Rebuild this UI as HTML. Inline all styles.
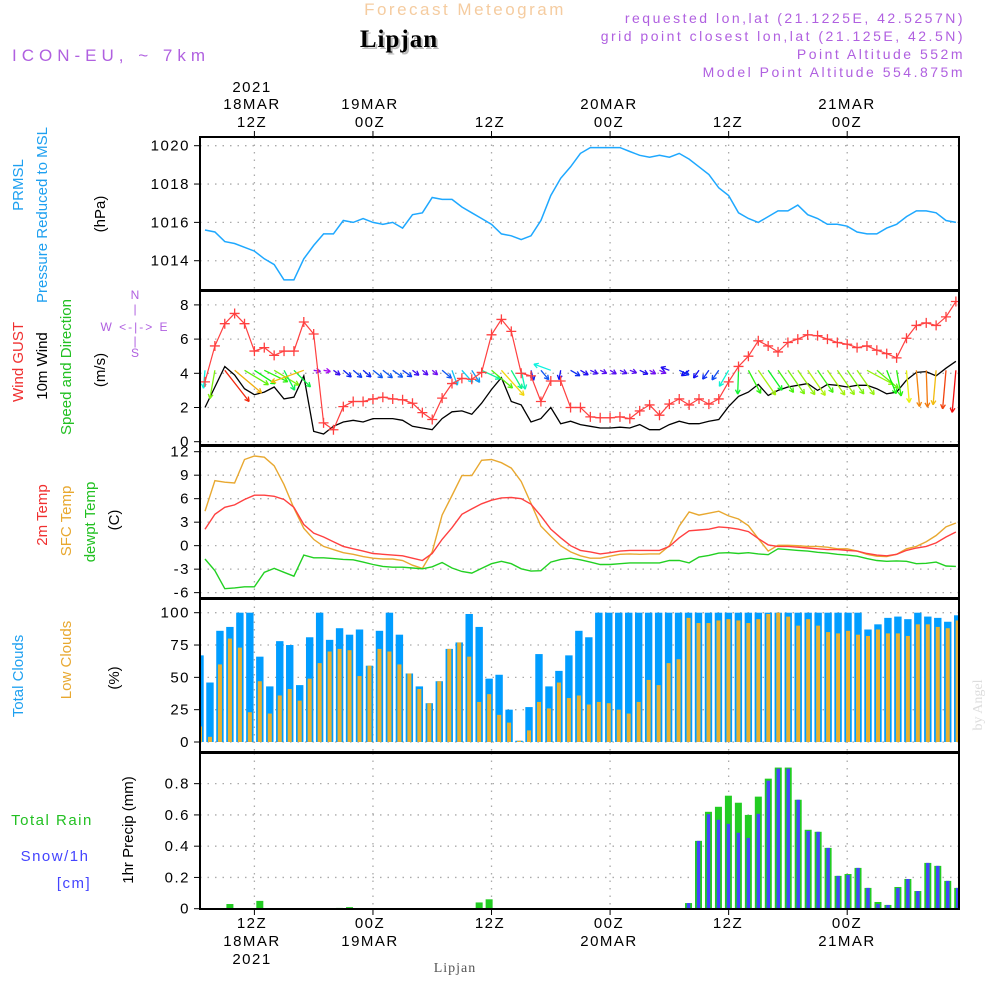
<!DOCTYPE html>
<html><head><meta charset="utf-8"><style>
html,body{margin:0;padding:0;background:#fff;}
svg{display:block;font-family:"Liberation Sans",sans-serif;}
</style></head><body>
<svg id="chart" width="1000" height="1000" viewBox="0 0 1000 1000" xmlns="http://www.w3.org/2000/svg">
<text x="465" y="15" font-size="17" fill="#f5cca0" text-anchor="middle" letter-spacing="2.5">Forecast Meteogram</text>
<text x="401" y="49" font-size="25" font-weight="bold" font-family="Liberation Serif,serif" fill="#bbb" text-anchor="middle" letter-spacing="1">Lipjan</text>
<text x="399" y="47" font-size="25" font-weight="bold" font-family="Liberation Serif,serif" fill="#000" text-anchor="middle" letter-spacing="1">Lipjan</text>
<text x="12" y="61" font-size="17" fill="#b060e0" letter-spacing="5">ICON-EU, ~ 7km</text>
<g font-size="14" fill="#b060e0" text-anchor="end" letter-spacing="2.5">
<text x="965" y="23">requested lon,lat (21.1225E, 42.5257N)</text>
<text x="965" y="41">grid point closest lon,lat (21.125E, 42.5N)</text>
<text x="965" y="59">Point Altitude 552m</text>
<text x="965" y="77">Model Point Altitude 554.875m</text>
</g>
<g id="toplabels" font-size="15" fill="#000" text-anchor="middle" letter-spacing="1.5">
<text x="252" y="92">2021</text><text x="252" y="109">18MAR</text><text x="252" y="127">12Z</text>
<text x="370" y="109">19MAR</text><text x="370" y="127">00Z</text>
<text x="490" y="127">12Z</text>
<text x="609" y="109">20MAR</text><text x="609" y="127">00Z</text>
<text x="728" y="127">12Z</text>
<text x="847" y="109">21MAR</text><text x="847" y="127">00Z</text>
</g>
<g font-size="15" fill="#000" text-anchor="middle" letter-spacing="1.5">
<text x="252" y="928">12Z</text><text x="252" y="946">18MAR</text><text x="252" y="964">2021</text>
<text x="370" y="928">00Z</text><text x="370" y="946">19MAR</text>
<text x="490" y="928">12Z</text>
<text x="609" y="928">00Z</text><text x="609" y="946">20MAR</text>
<text x="728" y="928">12Z</text>
<text x="847" y="928">00Z</text><text x="847" y="946">21MAR</text>
</g>
<text x="455" y="972" font-size="14" font-family="Liberation Serif,serif" fill="#555" text-anchor="middle" letter-spacing="1">Lipjan</text>
<text transform="translate(982,705) rotate(-90)" font-size="14" font-family="Liberation Serif,serif" fill="#ddd" text-anchor="middle">by Angel</text>

<g font-size="15" text-anchor="middle">
<text transform="translate(23,185) rotate(-90)" fill="#1ea0f0">PRMSL</text>
<text transform="translate(47,215) rotate(-90)" fill="#1ea0f0">Pressure Reduced to MSL</text>
<text transform="translate(105,214) rotate(-90)" fill="#000">(hPa)</text>
<text transform="translate(23,362) rotate(-90)" fill="#f03030">Wind GUST</text>
<text transform="translate(47,366) rotate(-90)" fill="#000">10m Wind</text>
<text transform="translate(71,367) rotate(-90)" fill="#22c022">Speed and Direction</text>
<text transform="translate(105,370) rotate(-90)" fill="#000">(m/s)</text>
<text transform="translate(47,515) rotate(-90)" fill="#f03030">2m Temp</text>
<text transform="translate(71,521) rotate(-90)" fill="#e8a830">SFC Temp</text>
<text transform="translate(95,522) rotate(-90)" fill="#22c022">dewpt Temp</text>
<text transform="translate(119,520) rotate(-90)" fill="#000">(C)</text>
<text transform="translate(23,676) rotate(-90)" fill="#1ea0f0">Total Clouds</text>
<text transform="translate(71,660) rotate(-90)" fill="#e8a830">Low Clouds</text>
<text transform="translate(119,678) rotate(-90)" fill="#000">(%)</text>
<text transform="translate(133,830) rotate(-90)" fill="#000">1hr Precip (mm)</text>
<text x="52" y="825" fill="#22c022" letter-spacing="1.5">Total  Rain</text>
<text x="55" y="861" fill="#4444ff" letter-spacing="1.5">Snow/1h</text>
<text x="74" y="888" fill="#4444ff" letter-spacing="1.5">[cm]</text>
</g>
<g font-size="12" fill="#b060e0" text-anchor="middle">
<text x="135" y="299">N</text><text x="135" y="313">|</text>
<text x="135" y="331" letter-spacing="2">W &lt;-|-&gt; E</text>
<text x="135" y="345">|</text><text x="135" y="357">S</text>
</g>
<g id="plots"></g>
</svg>
<script>
// ---- data (hourly, 07Z 18MAR .. 11Z 21MAR) ----
const pressure=[1015.6,1015.5,1015.0,1014.9,1014.7,1014.5,1014.1,1013.8,1013.0,1013.0,1014.1,1014.8,1015.4,1015.4,1016.1,1016.0,1016.2,1016.0,1015.9,1016.0,1015.7,1016.4,1016.5,1017.3,1017.2,1017.2,1016.8,1016.5,1016.2,1015.9,1015.4,1015.3,1015.1,1015.3,1016.1,1017.4,1018.3,1018.9,1019.6,1019.9,1019.9,1019.9,1019.9,1019.7,1019.5,1019.4,1019.5,1019.4,1019.6,1019.3,1018.9,1018.5,1017.8,1017.4,1016.5,1016.2,1016.0,1016.3,1016.6,1016.6,1016.9,1016.4,1016.2,1015.9,1015.9,1015.8,1015.5,1015.4,1015.4,1015.7,1015.9,1016.3,1016.6,1016.6,1016.5,1016.1,1016.0];
const gust=[3.5,5.6,6.9,7.5,6.9,5.3,5.5,5.05,5.3,5.3,7.0,6.3,1.1,0.7,2.05,2.35,2.35,2.5,2.6,2.5,2.45,2.25,1.7,1.3,2.55,3.4,3.7,3.65,4.05,6.25,7.15,6.45,4.0,3.85,2.35,3.55,3.55,2.0,2.0,1.45,1.4,1.4,1.45,1.35,1.8,2.15,1.55,2.2,2.5,2.15,2.5,2.2,2.5,3.5,4.4,5.0,5.9,5.6,5.25,5.8,6.0,6.25,6.2,6.0,5.8,5.7,5.5,5.6,5.35,5.15,4.9,6.05,6.8,6.95,6.8,7.3,8.2];
const wind=[2.0,3.2,4.4,3.9,3.1,2.75,2.9,3.2,2.5,2.6,3.85,0.6,0.45,0.9,1.15,1.25,1.15,1.35,1.35,1.35,1.25,0.9,0.8,0.7,1.35,1.75,1.8,1.6,2.25,3.05,3.75,2.35,2.15,1.15,1.35,2.0,1.05,1.2,1.0,0.9,0.8,0.8,0.85,0.8,1.0,0.7,0.7,1.0,1.2,1.05,1.05,1.2,1.3,2.05,2.65,2.9,3.35,2.7,3.0,3.2,3.3,3.4,3.0,3.35,3.3,3.2,3.3,3.3,3.1,2.8,2.9,3.6,4.05,4.1,3.85,4.3,4.7];
const windTo=[95,100,52,40,31,33,26,31,62,45,160,10,10,35,40,40,40,38,38,35,35,38,40,40,40,70,48,57,25,40,48,60,78,75,50,200,100,30,30,25,25,30,25,20,25,30,25,200,25,145,125,125,125,120,92,62,55,55,55,55,55,55,55,55,55,55,55,28,40,68,80,85,85,88,95,95,95];
const t2m=[2.1,4.0,4.9,5.2,5.9,6.45,6.45,6.3,5.9,4.9,2.7,1.6,1.1,0.5,-0.1,-0.4,-0.7,-1.0,-1.1,-1.2,-1.3,-1.6,-1.9,-1.0,0.8,2.3,4.0,4.7,5.35,5.8,6.1,6.15,6.0,5.3,3.8,2.1,1.0,0.0,-0.6,-0.8,-1.05,-0.9,-0.7,-0.6,-0.6,-0.6,-0.6,-0.1,1.0,1.9,2.0,2.1,2.4,2.3,2.1,1.8,0.9,0.1,-0.1,-0.1,-0.2,-0.3,-0.4,-0.5,-0.5,-0.6,-0.7,-1.0,-1.2,-1.3,-1.1,-0.6,-0.3,-0.1,0.35,1.1,1.75];
const tsfc=[4.4,8.3,8.1,8.0,11.0,11.45,11.3,10.2,7.8,4.8,2.2,0.8,-0.1,-0.5,-0.9,-1.1,-1.4,-1.6,-1.7,-1.7,-1.9,-2.5,-2.9,-0.8,3.9,6.4,8.95,8.95,10.9,11.0,10.6,9.9,8.2,5.4,2.5,1.2,0.0,-0.8,-1.3,-1.6,-1.6,-1.35,-1.1,-1.05,-1.1,-1.05,-1.05,0.0,2.5,4.3,3.9,4.15,4.4,3.8,3.4,2.55,0.9,-0.7,0.05,0.05,0.0,-0.1,-0.1,-0.2,-0.4,-0.4,-0.7,-1.1,-1.35,-1.4,-1.1,-0.4,-0.1,0.5,1.3,2.4,2.9];
const dewpt=[-1.7,-3.2,-5.5,-5.4,-5.25,-5.25,-3.4,-2.9,-3.4,-3.9,-1.2,-1.55,-1.55,-1.65,-1.75,-1.8,-2.1,-2.4,-2.65,-2.75,-2.75,-2.85,-2.95,-2.7,-2.15,-2.85,-3.3,-3.5,-2.9,-2.3,-2.0,-2.3,-2.95,-3.25,-3.2,-2.1,-1.75,-1.6,-1.8,-2.1,-2.4,-2.4,-2.3,-2.2,-2.2,-2.2,-2.2,-1.9,-1.9,-2.2,-1.45,-1.25,-0.95,-0.9,-1.0,-0.9,-1.05,-1.15,-0.4,-0.5,-0.6,-0.7,-0.85,-0.95,-1.1,-1.2,-1.35,-1.65,-1.9,-2.0,-1.95,-2.0,-2.3,-2.25,-2.1,-2.6,-2.65];
const totalClouds=[67,46,86,89,100,100,66,43,78,75,44,81,100,79,88,83,87,59,86,100,83,53,43,30,47,72,77,99,89,49,52,25,1,27,68,43,55,67,86,81,100,100,100,100,100,100,100,100,100,100,100,100,100,100,100,100,100,100,100,100,100,100,100,100,100,100,100,87,91,96,97,95,100,97,96,93,98];
const lowClouds=[12,4,60,80,73,23,47,22,36,41,32,49,61,70,72,71,51,59,72,70,60,53,41,30,47,72,77,66,31,37,21,15,1,9,31,26,46,34,36,29,31,30,25,22,31,48,44,61,64,96,92,92,94,95,94,92,95,99,100,97,90,95,90,85,84,86,83,82,87,84,84,82,91,91,89,88,94];
const rain=[0,0,0,0.03,0,0,0.05,0,0,0,0,0,0,0,0.005,0.01,0,0,0,0,0,0,0,0,0,0,0,0,0.04,0.06,0,0,0,0,0,0,0,0,0,0,0,0,0,0,0,0,0,0,0,0.036,0.434,0.62,0.652,0.723,0.678,0.6,0.717,0.832,0.903,0.903,0.697,0.505,0.492,0.389,0.21,0.222,0.261,0.133,0.043,0.024,0.139,0.19,0.113,0.293,0.274,0.178,0.133];
const snow=[0,0,0,0,0,0,0,0,0,0,0,0,0,0,0,0,0,0,0,0,0,0,0,0,0,0,0,0,0,0,0,0,0,0,0,0,0,0,0,0,0,0,0,0,0,0,0,0,0,0.036,0.434,0.605,0.569,0.543,0.486,0.453,0.607,0.819,0.896,0.896,0.697,0.498,0.492,0.389,0.21,0.216,0.261,0.133,0.03,0.024,0.133,0.19,0.113,0.293,0.274,0.178,0.133];
const pTicks=[1014,1016,1018,1020];
const wTicks=[0,2,4,6,8];
const tTicks=[-6,-3,0,3,6,9,12];
const cTicks=[0,25,50,75,100];
const rTicks=[0,0.2,0.4,0.6,0.8];
const timeGridIdx=[5,17,29,41,53,65];

// ---- axes ----
const X0=200,X1=959;
const xl=i=>205+9.88*i;
const xb=i=>200+9.97*i;
const yP=v=>145.7+(1020-v)*19.17;
const yW=v=>441.7-v*17.1;
const yT=v=>451.7+(12-v)*7.83;
const yC=v=>742-v*1.293;
const yR=v=>908.7-v*156.3;
const panels=[[137,290,yP,pTicks,'pressure'],[291,445,yW,wTicks,'wind'],[446,598,yT,tTicks,'temperature'],[599,752,yC,cTicks,'clouds'],[753,909,yR,rTicks,'precip']];

const NS='http://www.w3.org/2000/svg';
const root=document.getElementById('plots');
function mk(tag,attrs,parent){const e=document.createElementNS(NS,tag);for(const k in attrs)e.setAttribute(k,attrs[k]);(parent||root).appendChild(e);return e;}
function linePath(vals,yf){return vals.map((v,i)=>(i?'L':'M')+xl(i).toFixed(1)+','+yf(v).toFixed(1)).join('');}

const defs=mk('defs',{});
panels.forEach((p,k)=>{const c=mk('clipPath',{id:'clip'+k},defs);mk('rect',{x:X0,y:p[0],width:X1-X0,height:p[1]-p[0]},c);});

panels.forEach((p,k)=>{
  const g=mk('g',{});
  
  
  p[3].forEach(t=>{
    const y=p[2](t);
    const gl=mk('line',{x1:X0,x2:X1,y1:y,y2:y,stroke:'#aaa','stroke-width':1.3,'stroke-dasharray':'1.5 6'},g);
    
    
    mk('line',{x1:X0-6,x2:X0,y1:y,y2:y,stroke:'#000','stroke-width':1},g);
    const tx=mk('text',{x:X0-10,y:y+5,'font-size':15,'text-anchor':'end',fill:'#000','letter-spacing':1.5},g);
    tx.textContent=String(t);
    
    
  });
  timeGridIdx.forEach(i=>{
    const vl=mk('line',{x1:xl(i),x2:xl(i),y1:p[0],y2:p[1],stroke:'#aaa','stroke-width':1.3,'stroke-dasharray':'1.5 6'},g);
    
    
  });
});

// pressure
const pl=mk('path',{d:linePath(pressure,yP),fill:'none',stroke:'#1ea8ff','stroke-width':1.5,'clip-path':'url(#clip0)'});



// wind
const gw=mk('g',{'clip-path':'url(#clip1)'});


const wl=mk('path',{d:linePath(wind,yW),fill:'none',stroke:'#000','stroke-width':1.3},gw);


windTo.forEach((a,i)=>{
  const s=wind[i],len=Math.max(7,9*s),r=a*Math.PI/180;
  const x0=xl(i),y0=yW(4)-3,x1=x0+len*Math.cos(r),y1=y0+len*Math.sin(r);
  const hue=Math.max(0,Math.min(280,315-70*s));
  const col='hsl('+hue+',90%,50%)';
  const ag=mk('g',{stroke:col,'stroke-width':1.3,fill:'none'},gw);
  
  
  mk('line',{x1:x0,y1:y0,x2:x1,y2:y1},ag);
  const h=5;
  [r+Math.PI-0.5,r+Math.PI+0.5].forEach(b=>mk('line',{x1:x1,y1:y1,x2:x1+h*Math.cos(b),y2:y1+h*Math.sin(b)},ag));
});
const gl2=mk('path',{d:linePath(gust,yW),fill:'none',stroke:'#ff4040','stroke-width':1.2},gw);


gust.forEach((v,i)=>{
  const x=xl(i),y=yW(v);
  const m=mk('path',{d:`M${x-5},${y}H${x+5}M${x},${y-5}V${y+5}`,stroke:'#ff4040','stroke-width':1.3},gw);
  
  
});

// temperature
[[tsfc,'#e8a830','sfc-temp-line'],[t2m,'#ff4040','2m-temp-line'],[dewpt,'#22d022','dewpoint-line']].forEach(s=>{
  const e=mk('path',{d:linePath(s[0],yT),fill:'none',stroke:s[1],'stroke-width':1.4,'clip-path':'url(#clip2)'});
  
  
});

// clouds
const gc=mk('g',{'clip-path':'url(#clip3)'});


totalClouds.forEach((v,i)=>{
  const b=mk('rect',{x:xb(i)-3.7,y:yC(v),width:7.4,height:yC(0)-yC(v),fill:'#009dff'},gc);
  
  
});
lowClouds.forEach((v,i)=>{
  const b=mk('rect',{x:xb(i)-2,y:yC(v),width:4,height:yC(0)-yC(v),fill:'#e8b030'},gc);
  
  
});

// precip
const gr=mk('g',{'clip-path':'url(#clip4)'});


rain.forEach((v,i)=>{
  if(v<=0)return;
  const b=mk('rect',{x:xb(i)-3.5,y:yR(v),width:7,height:yR(0)-yR(v),fill:'#22cc22'},gr);
  
  
});
snow.forEach((v,i)=>{
  if(v<=0)return;
  const b=mk('rect',{x:xb(i)-1.7,y:yR(v),width:3.4,height:yR(0)-yR(v),fill:'#4444ff'},gr);
  
  
});

// frames
panels.forEach(p=>{
  const f=mk('rect',{x:X0,y:p[0],width:X1-X0,height:p[1]-p[0],fill:'none',stroke:'#000','stroke-width':2});
  
  
});
timeGridIdx.forEach(i=>{
  mk('line',{x1:xl(i),x2:xl(i),y1:131,y2:137,stroke:'#000','stroke-width':1});
  mk('line',{x1:xl(i),x2:xl(i),y1:909,y2:915,stroke:'#000','stroke-width':1});
});
</script>
</body></html>
